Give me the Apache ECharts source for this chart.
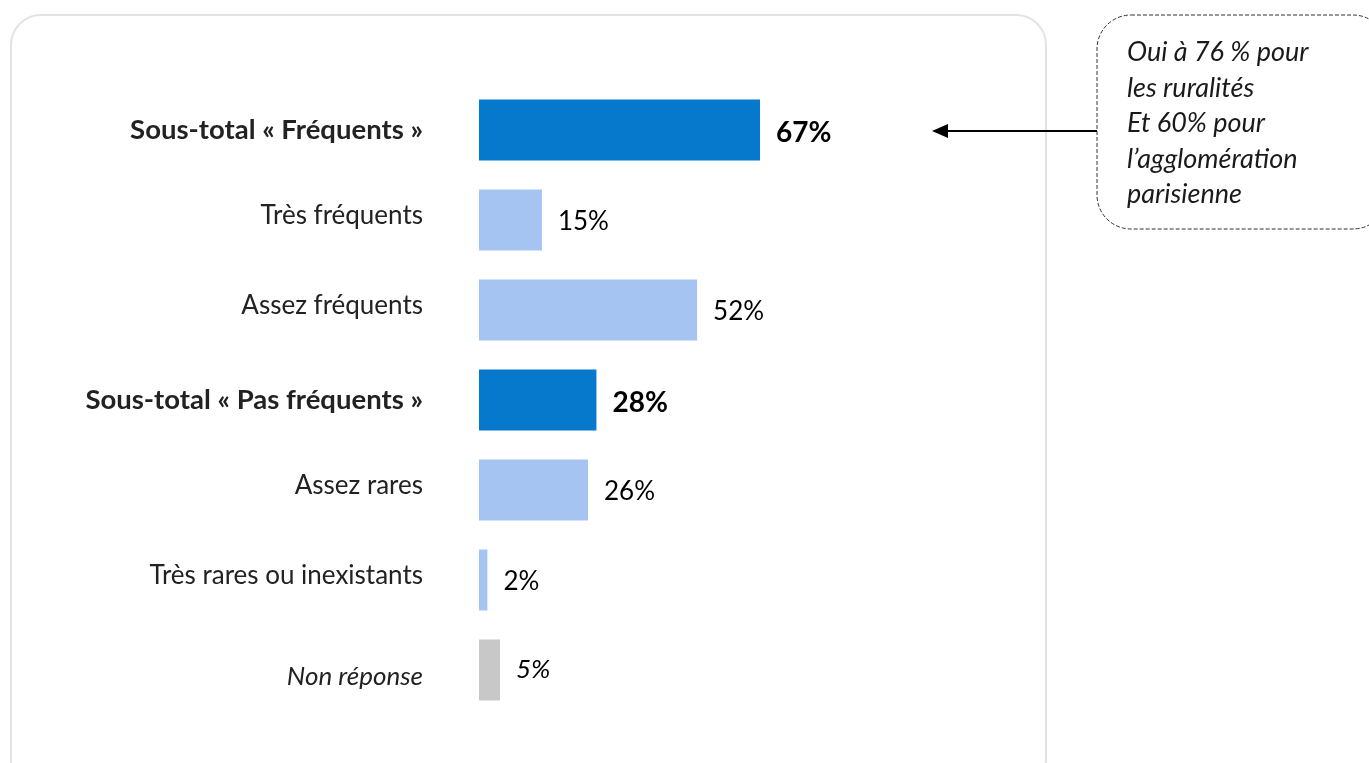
<!DOCTYPE html>
<html>
<head>
<meta charset="utf-8">
<script src="https://cdn.jsdelivr.net/npm/echarts@6/dist/echarts.min.js"></script>
<style>
  html, body { margin: 0; padding: 0; background: #ffffff; }
  #chart { width: 1369px; height: 763px; }
</style>
</head>
<body>
<div id="chart"></div>
<script>
// Survey answers, top to bottom
const categories = [
  'Sous-total « Fréquents »',
  'Très fréquents',
  'Assez fréquents',
  'Sous-total « Pas fréquents »',
  'Assez rares',
  'Très rares ou inexistants',
  'Non réponse'
];
const values = [67, 15, 52, 28, 26, 2, 5];
// row kind: 'total' = bold sub-total, 'detail' = detail row, 'nr' = no answer
const rowKinds = ['total', 'detail', 'detail', 'total', 'detail', 'detail', 'nr'];
const calloutLines = [
  'Oui à 76 % pour',
  'les ruralités',
  'Et 60% pour',
  'l’agglomération',
  'parisienne'
];

const FONT = 'Lato, "Open Sans", sans-serif';
const colors = { total: '#0779cc', detail: '#a6c4f2', nr: '#c8c8c8' };

const chart = echarts.init(document.getElementById('chart'), null, { renderer: 'canvas' });

const seriesData = values.map((v, i) => ({
  value: v,
  itemStyle: { color: colors[rowKinds[i]] },
  label: {
    fontWeight: rowKinds[i] === 'total' ? 'bold' : 'normal',
    fontStyle: rowKinds[i] === 'nr' ? 'italic' : 'normal',
    fontSize: rowKinds[i] === 'total' ? 28 : 26,
    offset: rowKinds[i] === 'total' ? [0, 3] : (rowKinds[i] === 'nr' ? [0, 0] : [0, 2])
  }
}));

const option = {
  animation: false,
  backgroundColor: '#ffffff',
  grid: { left: 479, top: 85, width: 419.4, height: 630, containLabel: false },
  xAxis: {
    type: 'value', min: 0, max: 100, show: false
  },
  yAxis: {
    type: 'category',
    inverse: true,
    data: categories,
    axisLine: { show: false },
    axisTick: { show: false },
    splitLine: { show: false },
    axisLabel: {
      margin: 56,
      fontFamily: FONT,
      fontSize: 26,
      color: '#222222',
      formatter: (val, idx) => {
        const k = rowKinds[idx];
        if (k === 'total') return '{b|' + val + '}';
        if (k === 'nr') return '{i|' + val + '}';
        return '{n|' + val + '}';
      },
      rich: {
        b: { fontFamily: FONT, fontSize: 27.5, fontWeight: 'bold', color: '#222222' },
        i: { fontFamily: FONT, fontSize: 26, fontStyle: 'italic', color: '#222222', padding: [14, 0, 0, 0] },
        n: { fontFamily: FONT, fontSize: 26, color: '#222222', padding: [0, 0, 8, 0] }
      }
    }
  },
  series: [{
    type: 'bar',
    data: seriesData,
    barWidth: 61,
    label: {
      show: true,
      position: 'right',
      distance: 16,
      fontFamily: FONT,
      color: '#000000',
      formatter: p => p.value + '%'
    }
  }],
  graphic: [
    // framing panel
    {
      type: 'rect', z: -10, silent: true,
      shape: { x: 11, y: 15, width: 1035, height: 775, r: 30 },
      style: { fill: 'none', stroke: '#e3e3e3', lineWidth: 2 }
    },
    // callout box
    {
      type: 'rect', z: 5, silent: true,
      shape: { x: 1097, y: 15, width: 290, height: 214, r: 34 },
      style: { fill: '#ffffff', stroke: '#333333', lineWidth: 1, lineDash: [4, 2] }
    },
    {
      type: 'text', z: 6, silent: true,
      style: {
        x: 1127, y: 35,
        text: calloutLines.join('\n'),
        font: 'italic 27px ' + FONT,
        lineHeight: 35.5,
        fill: '#1a1a1a',
        textVerticalAlign: 'top'
      }
    },
    // arrow from callout to the first sub-total
    {
      type: 'line', z: 6, silent: true,
      shape: { x1: 1097, y1: 131, x2: 945, y2: 131 },
      style: { stroke: '#000000', lineWidth: 2 }
    },
    {
      type: 'polygon', z: 6, silent: true,
      shape: { points: [[932, 131], [948, 124], [948, 138]] },
      style: { fill: '#000000' }
    }
  ]
};

chart.setOption(option);
</script>
</body>
</html>
